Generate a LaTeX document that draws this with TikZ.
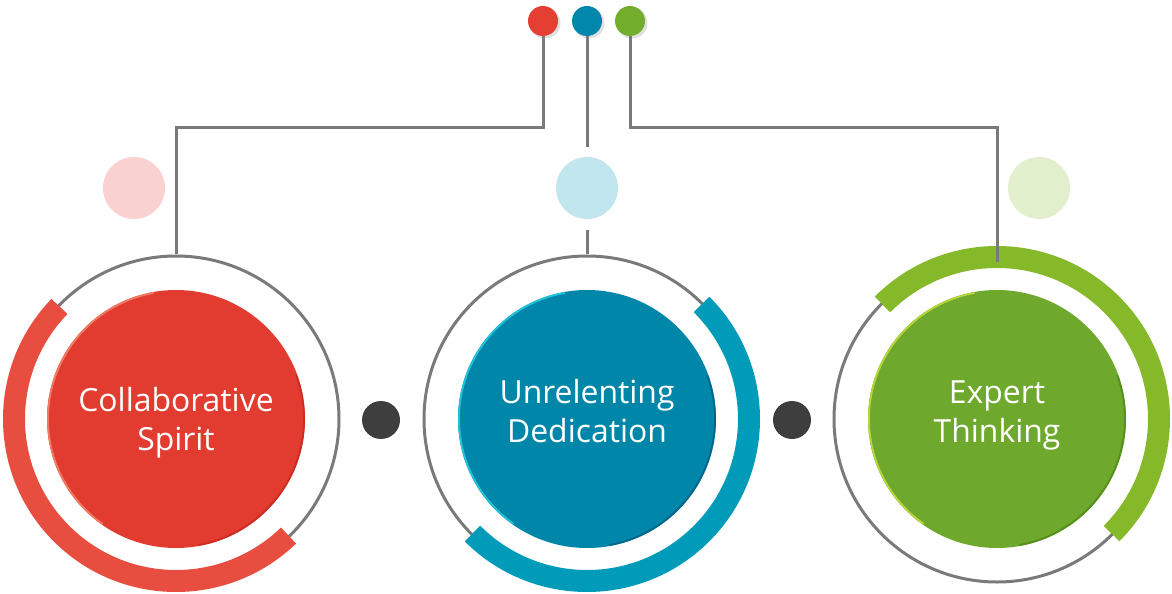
\documentclass[tikz,border=0pt]{standalone}
\usepackage{fontspec}
\setmainfont{Open Sans}
\definecolor{redcore}{HTML}{E23C31}
\definecolor{redarc}{HTML}{E84E3F}
\definecolor{redpin}{HTML}{E53E33}
\definecolor{redsoft}{HTML}{F9D1D0}
\definecolor{redlite}{HTML}{F07A63}
\definecolor{reddark}{HTML}{CC2C22}
\definecolor{bluecore}{HTML}{0086A9}
\definecolor{bluearc}{HTML}{009BB8}
\definecolor{bluepin}{HTML}{0087AB}
\definecolor{bluesoft}{HTML}{C2E6ED}
\definecolor{bluelite}{HTML}{1DC4DC}
\definecolor{bluedark}{HTML}{00668C}
\definecolor{greencore}{HTML}{6EA82D}
\definecolor{greenarc}{HTML}{86B92A}
\definecolor{greenpin}{HTML}{73AD2C}
\definecolor{greensoft}{HTML}{E2EFCD}
\definecolor{greenlite}{HTML}{B8D63A}
\definecolor{greendark}{HTML}{558F1C}
\definecolor{ringgray}{HTML}{7A7A7A}
\definecolor{darkdot}{HTML}{3E3E3E}
\begin{document}
\begin{tikzpicture}[x=1bp,y=-1bp,
  ring/.style={circle, draw=ringgray, line width=3bp, minimum size=326bp, inner sep=0pt},
  core/.style={circle, minimum size=258bp, inner sep=0pt},
  label/.style={text=white, font=\fontsize{32}{39}\selectfont, align=center, inner sep=0pt, anchor=base},
  pin/.style={circle, minimum size=30bp, inner sep=0pt},
  soft/.style={circle, minimum size=62bp, inner sep=0pt},
  sepdot/.style={circle, fill=darkdot, minimum size=38bp, inner sep=0pt},
  conn/.style={draw=ringgray, line width=3bp},
  band/.style={line width=22bp},
  rim/.style={line width=1.8bp}]
\useasboundingbox (0,0) rectangle (1172,594);
% rings
\node[ring] (ringL) at (176,419) {};
\node[ring] (ringM) at (587,419) {};
\node[ring] (ringR) at (997,419) {};
% coloured bands
\draw[band, draw=redarc] (ringL.center) ++(-136:162) arc[start angle=-136, end angle=-314, radius=162];
\draw[band, draw=bluearc] (ringM.center) ++(-45:162) arc[start angle=-45, end angle=135, radius=162];
\draw[band, draw=greenarc] (ringR.center) ++(-135:162) arc[start angle=-135, end angle=45, radius=162];
% cores
\node[core, fill=redcore] (coreL) at (176,419) {};
\node[core, fill=bluecore] (coreM) at (587,419) {};
\node[core, fill=greencore] (coreR) at (997,419) {};
\draw[rim, draw=redlite] (coreL.center) ++(-100:128) arc[start angle=-100, end angle=-235, radius=128];
\draw[rim, draw=reddark] (coreL.center) ++(80:128) arc[start angle=80, end angle=-20, radius=128];
\draw[rim, draw=bluelite] (coreM.center) ++(-100:128) arc[start angle=-100, end angle=-235, radius=128];
\draw[rim, draw=bluedark] (coreM.center) ++(80:128) arc[start angle=80, end angle=-20, radius=128];
\draw[rim, draw=greenlite] (coreR.center) ++(-100:128) arc[start angle=-100, end angle=-235, radius=128];
\draw[rim, draw=greendark] (coreR.center) ++(80:128) arc[start angle=80, end angle=-20, radius=128];
% labels
\node[label] (txtL) at (176,450) {Collaborative\\Spirit};
\node[label] (txtM) at (587,442) {Unrelenting\\Dedication};
\node[label] (txtR) at (997,442) {Expert\\Thinking};
% separators
\node[sepdot] (sep1) at (381,420) {};
\node[sepdot] (sep2) at (792,420) {};
% soft circles
\node[soft, fill=redsoft] (softL) at (134,188) {};
\node[soft, fill=bluesoft] (softM) at (587,188) {};
\node[soft, fill=greensoft] (softR) at (1039,188) {};
% pins with faint shadows
\fill[black, opacity=0.12] (545,23) circle[radius=15.5];
\fill[black, opacity=0.12] (589,23) circle[radius=15.5];
\fill[black, opacity=0.12] (632,23) circle[radius=15.5];
\node[pin, fill=redpin] (pinR) at (543,21) {};
\node[pin, fill=bluepin] (pinB) at (587,21) {};
\node[pin, fill=greenpin] (pinG) at (630,21) {};
% connectors
\draw[conn] (pinR.south) |- (ringL.north |- 0,128) -- (ringL.north);
\draw[conn] (pinG.south) |- (ringR.north |- 0,128) -- ([yshift=-8bp]ringR.north);
\draw[conn, shorten >=10bp] (pinB.south) -- (softM.north);
\draw[conn, shorten <=11bp] (softM.south) -- (ringM.north);
\end{tikzpicture}
\end{document}
